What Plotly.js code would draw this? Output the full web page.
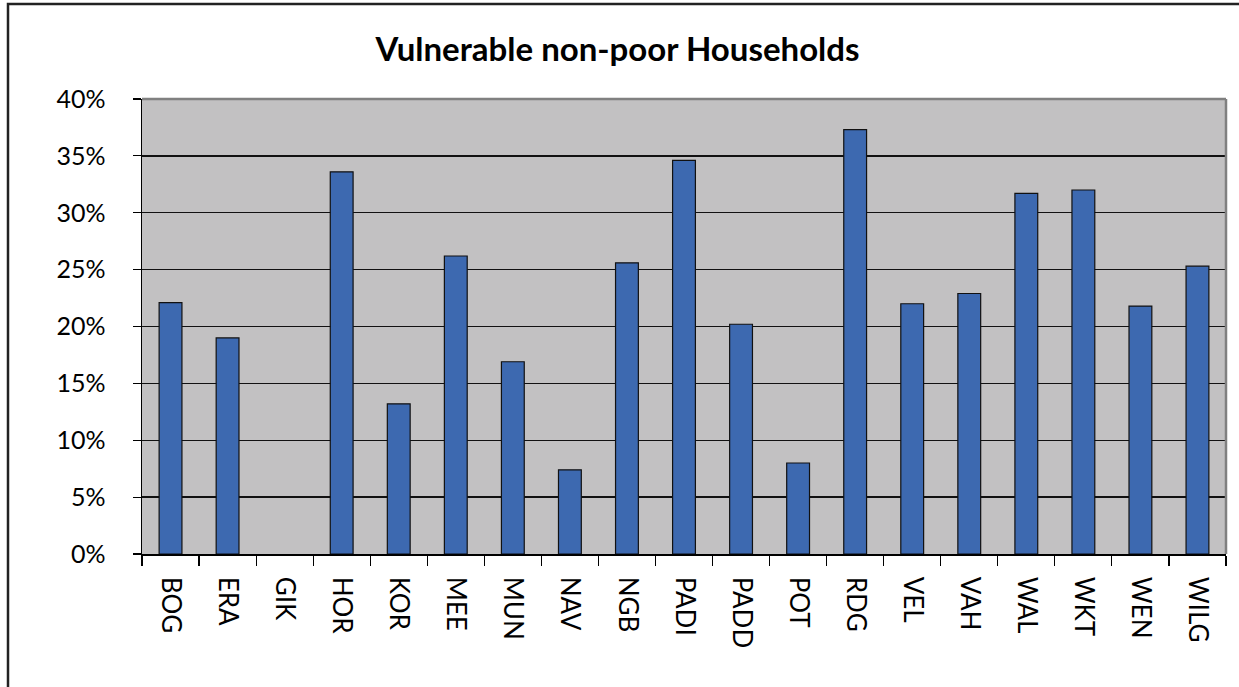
<!DOCTYPE html>
<html>
<head>
<meta charset="utf-8">
<script src="https://cdn.plot.ly/plotly-3.0.1.min.js"></script>
<style>
html,body{margin:0;padding:0;background:#fff;}
#chart{width:1239px;height:687px;}
</style>
</head>
<body>
<div id="chart"></div>
<script>
const categories = ["BOG","ERA","GIK","HOR","KOR","MEE","MUN","NAV","NGB","PADI","PADD","POT","RDG","VEL","VAH","WAL","WKT","WEN","WILG"];
const values = [22.1, 19.0, 0, 33.6, 13.2, 26.2, 16.9, 7.4, 25.6, 34.6, 20.2, 8.0, 37.3, 22.0, 22.9, 31.7, 32.0, 21.8, 25.3];
const titleText = "Vulnerable non-poor Households";

const L = 142, R = 13, T = 99, B = 133, W = 1239, H = 687;
const pw = W - L - R, ph = H - T - B;
const px = v => (v - L) / pw;
const py = v => (H - B - v) / ph;

const trace = {
  type: "bar",
  x: categories,
  y: values,
  marker: {
    color: "rgb(61,105,176)",
    line: {color: "#111", width: values.map(v => v > 0 ? 1.2 : 0)}
  },
  hoverinfo: "x+y"
};

const layout = {
  width: W, height: H,
  margin: {l: L, r: R, t: T, b: B, pad: 0},
  paper_bgcolor: "#ffffff",
  plot_bgcolor: "#c2c1c2",
  bargap: 0.6,
  showlegend: false,
  font: {family: "Lato, 'DejaVu Sans', sans-serif", color: "#000", size: 25},
  title: {
    text: "<b>" + titleText + "</b>",
    font: {family: "Lato, 'DejaVu Sans', sans-serif", size: 33, color: "#000"},
    xref: "container", yref: "container",
    x: 617.5 / W, y: 1 - 49 / H, xanchor: "center", yanchor: "middle"
  },
  xaxis: {
    type: "category",
    tickangle: 90,
    tickson: "boundaries",
    ticks: "outside", ticklen: 10, tickwidth: 1.2, tickcolor: "#000",
    showline: true, linecolor: "#000", linewidth: 1.5,
    showgrid: false, zeroline: false,
    ticklabelstandoff: 16,
    tickfont: {size: 26}
  },
  yaxis: {
    range: [0, 40], dtick: 5, tick0: 0,
    ticksuffix: "%",
    ticks: "outside", ticklen: 8, tickwidth: 1.2, tickcolor: "#000",
    showline: true, linecolor: "#000", linewidth: 1.5,
    showgrid: true, gridcolor: "#111", gridwidth: 1.3,
    zeroline: false,
    ticklabelstandoff: 22,
    tickfont: {size: 25}
  },
  shapes: [
    {type: "line", xref: "paper", yref: "paper", x0: 0, x1: 1, y0: 1, y1: 1, line: {color: "#808080", width: 2.5}, layer: "above"},
    {type: "line", xref: "paper", yref: "paper", x0: 1, x1: 1, y0: 0, y1: 1, line: {color: "#808080", width: 2.5}, layer: "above"},
    {type: "rect", xref: "paper", yref: "paper", x0: px(8), x1: px(1260), y0: py(710), y1: py(4), line: {color: "#222", width: 2.5}, fillcolor: "rgba(0,0,0,0)", layer: "below"}
  ]
};

Plotly.newPlot("chart", [trace], layout, {displayModeBar: false, staticPlot: true});
</script>
</body>
</html>
